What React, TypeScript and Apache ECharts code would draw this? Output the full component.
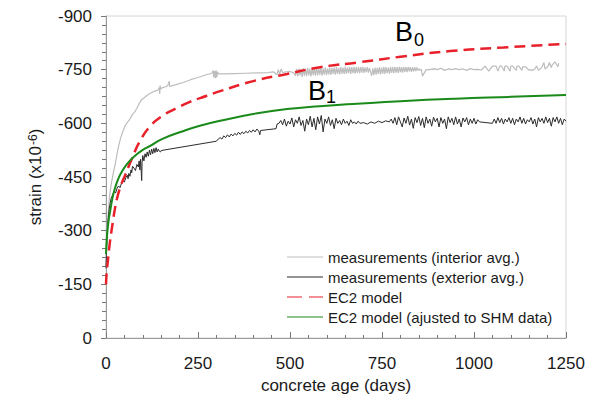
import React, { useEffect, useRef } from "react";
import * as echarts from "echarts";

const FONT = "'Liberation Sans', Arial, sans-serif";

const xTickMin = 0;
const xTickMax = 1250;
const xTickStep = 250;
const yTickMin = -900;
const yTickMax = 0;
const yTickStep = 150;

const seriesNames = [
  "measurements (interior avg.)",
  "measurements (exterior avg.)",
  "EC2 model",
  "EC2 model (ajusted to SHM data)",
];

const intDays = [
  0, 3, 6, 10, 15, 20, 25, 30, 35, 40, 45, 52, 58, 65, 72, 78, 84, 90, 96, 102, 108, 114, 120, 126, 132, 138, 142, 145, 146, 147, 148, 152, 158, 164, 168, 170, 172, 173, 176, 190, 210, 230, 250, 270, 288, 291, 293, 295, 297, 299, 301, 303, 306, 320, 350, 380, 410, 440, 455, 465, 468, 472, 476, 480, 490, 500, 510,
  515, 518, 521, 524, 527, 530, 533, 536, 539, 542, 545, 548, 551, 554, 557, 560, 563, 566, 569, 572, 575, 578, 581, 584, 587, 590, 593, 596, 599, 602, 605, 608, 611, 614, 617, 620, 623, 626, 629, 632, 635, 638, 641, 644, 647, 650, 653, 656, 659, 662, 665, 668, 671, 674, 677, 680, 683, 686, 689, 692, 695, 698, 701, 704, 707, 710, 713, 716, 719, 722, 725, 728, 731, 734, 737, 740, 743, 746, 749, 752, 755, 758, 761, 764, 767, 770, 773, 776, 779, 782, 785, 788, 791, 794, 797, 800, 803, 806, 809, 812, 815, 818, 821, 824, 827, 830, 833, 836, 839, 842, 845, 848, 851, 854, 857,
  860, 870, 880, 888, 890, 892, 900, 910, 920, 930, 940, 950, 960, 970, 980, 990, 1000, 1010, 1020, 1030, 1040, 1050, 1060, 1065, 1070, 1075, 1082, 1084, 1090, 1098, 1100, 1105, 1115, 1117, 1122, 1130, 1132, 1140, 1150, 1152, 1158, 1165, 1170, 1175, 1180, 1185, 1190, 1193, 1200, 1205, 1210, 1212, 1220, 1228, 1230, 1238, 1242, 1245, 1250,
];
const intVals = [
  -200, -290, -350, -400, -435, -462, -485, -515, -540, -560, -575, -593, -603, -612, -625, -632, -642, -655, -665, -670, -675, -680, -684, -687, -690, -692, -694, -700, -682, -706, -696, -699, -701, -703, -706, -712, -718, -703, -704, -708, -714, -722, -728, -735, -740, -748, -728, -746, -726, -748, -728, -744, -738, -738, -739, -740, -741, -742, -744, -736, -750, -738, -752, -742, -744, -745, -741,
  -733, -752, -731, -753, -734, -751, -730, -754, -733, -752, -732, -755, -734, -753, -731, -754, -735, -752, -733, -756, -734, -753, -736, -755, -733, -754, -736, -756, -735, -753, -737, -756, -735, -755, -738, -756, -736, -757, -738, -755, -737, -757, -739, -756, -738, -758, -739, -756, -740, -758, -738, -757, -740, -758, -739, -757, -741, -758, -740, -757, -742, -758, -741, -756, -743, -757, -742, -755, -744,
  -733, -754, -735, -756, -736, -755, -738, -757, -737, -756, -739, -758, -738, -757, -740, -756, -739, -758, -741, -757, -740, -758, -742, -757, -741, -758, -743, -757, -742, -758, -744, -757, -743, -758, -745, -757, -744, -756, -745, -757, -746, -756,
  -748, -752, -748, -751, -732, -750, -750, -752, -749, -753, -750, -754, -748, -752, -750, -753, -750, -752, -748, -753, -750, -751, -749, -760, -746, -760, -760, -746, -760, -760, -746, -760, -760, -746, -760, -760, -748, -760, -760, -748, -758, -758, -748, -750, -748, -752, -760, -748, -752, -758, -770, -752, -758, -770, -756, -762, -772, -758, -768,
];

const extDays = [
  0, 1, 2, 3, 5, 7, 10, 14, 18, 22, 26, 30, 34, 38, 42, 46, 50, 54, 58, 60, 62, 65, 68, 70, 72, 76, 80, 84, 88, 90, 92, 94, 96, 97, 98, 100, 103, 106, 109, 112, 115, 118, 121, 124, 127, 130, 133, 136, 139, 142, 145, 148, 150,
  300, 305, 310, 315, 320, 325, 330, 335, 340, 345, 350, 355, 360, 365, 370, 375, 380, 385, 390, 395, 400, 405, 410, 415, 418, 420,
  462, 465, 470, 475, 480, 485, 490, 495, 500, 505, 510, 515, 520, 525, 530, 535, 540, 545, 550, 555, 560, 565, 570, 575, 580, 585, 590, 595, 600, 605, 610, 615, 620, 625, 630, 635, 640, 645, 650, 655, 660, 665, 670, 675, 680, 685, 690,
  700, 710, 720, 730, 740, 750, 760, 770,
  775, 780, 785, 790, 795, 800, 805, 810, 815, 820, 825, 830, 835, 840, 845, 850, 855, 860, 865, 870, 875, 880, 885, 890, 895, 900, 905, 910, 915, 920, 925, 930, 935, 940, 945, 950, 955, 960, 965, 970, 975, 980, 985, 990, 995, 1000, 1005, 1010, 1015,
  1050, 1055, 1060, 1065, 1070, 1075, 1080, 1085, 1090, 1095, 1100, 1105, 1110, 1115, 1120, 1125, 1130, 1135, 1140, 1145, 1150, 1155, 1160, 1165, 1170, 1175, 1180, 1185, 1190, 1195, 1200, 1205, 1210, 1215, 1220, 1225, 1230, 1235, 1240, 1245, 1250,
];
const extVals = [
  -195, -230, -260, -290, -320, -345, -370, -390, -400, -410, -405, -418, -425, -420, -432, -440, -436, -448, -455, -445, -460, -452, -470, -462, -480, -475, -468, -485, -478, -495, -470, -500, -460, -440, -490, -510, -495, -515, -505, -520, -508, -525, -512, -528, -515, -530, -518, -532, -520, -528, -522, -520, -524,
  -550, -556, -560, -556, -565, -560, -568, -562, -570, -565, -572, -567, -575, -569, -576, -571, -578, -573, -580, -575, -582, -576, -584, -578, -568, -580,
  -585, -598, -600, -608, -596, -612, -592, -606, -598, -615, -590, -610, -600, -618, -594, -608, -578, -612, -596, -620, -590, -614, -582, -618, -598, -622, -576, -612, -600, -618, -594, -610, -585, -614, -600, -608, -596, -612, -600, -606, -594, -610, -600, -604, -598, -606, -600,
  -602, -598, -604, -600, -606, -602, -607, -604,
  -612, -600, -616, -596, -618, -604, -590, -615, -600, -620, -595, -612, -586, -616, -602, -619, -594, -614, -588, -618, -600, -612, -592, -617, -604, -614, -590, -616, -600, -612, -585, -618, -602, -614, -596, -618, -598, -612, -590, -615, -604, -616, -596, -612, -600, -614, -598, -610, -604,
  -600, -612, -600, -616, -602, -614, -598, -612, -604, -616, -600, -614, -596, -612, -604, -618, -600, -614, -598, -610, -604, -616, -598, -612, -590, -616, -604, -614, -600, -618, -602, -614, -592, -616, -604, -618, -600, -614, -596, -612, -606,
];

const ec2Days = [0, 2, 5, 8, 11, 15, 19, 24, 30, 40, 52, 70, 92, 120, 152, 193, 228, 274, 310, 400, 492, 582, 690, 800, 935, 1080, 1250];
const ec2Vals = [-150, -185, -215, -245, -271, -300, -327, -360, -390, -425, -455, -500, -550, -592, -620, -643, -660, -677, -690, -718, -738, -757, -771, -786, -802, -812, -822];

const adjDays = [0, 2, 5, 8, 11, 16, 22, 33, 45, 57, 70, 84, 100, 120, 152, 209, 255, 310, 400, 492, 580, 671, 800, 950, 1100, 1250];
const adjVals = [-235, -275, -310, -335, -352, -383, -410, -444, -468, -486, -501, -514, -526, -537, -556, -578, -593, -607, -626, -640, -648, -654, -662, -669, -674, -679];

const zip = (xs: number[], ys: number[]) => xs.map((x, i) => [x, ys[i]]);

const SOLID_ICON = "path://M0,0h36v1h-36z";
const DASH_ICON = "path://M0,0h15v1h-15zM22,0h14v1h-14z";

export default function App() {
  const ref = useRef<HTMLDivElement>(null);
  useEffect(() => {
    const chart = echarts.init(ref.current!, null, { renderer: "svg" });
    chart.setOption({
      animation: false,
      backgroundColor: "#ffffff",
      textStyle: { fontFamily: FONT },
      grid: {
        left: 106,
        right: 35,
        top: 16,
        bottom: 63,
        show: true,
        borderColor: "#d6d6d6",
        borderWidth: 1,
        containLabel: false,
      },
      xAxis: {
        type: "value",
        min: xTickMin,
        max: xTickMax,
        interval: xTickStep,
        name: "concrete age (days)",
        nameLocation: "middle",
        nameGap: 37,
        nameTextStyle: { fontSize: 17, color: "#1a1a1a", fontFamily: FONT },
        axisLine: { show: true, lineStyle: { color: "#9a9a9a", width: 1 } },
        axisTick: { show: true, inside: true, length: 6, lineStyle: { color: "#777" } },
        minorTick: { show: true, splitNumber: 5, length: 3, lineStyle: { color: "#777" } },
        axisLabel: { fontSize: 17, color: "#1a1a1a", margin: 17, fontFamily: FONT, formatter: (v: number) => String(v) },
        splitLine: { show: false },
      },
      yAxis: {
        type: "value",
        min: yTickMin,
        max: yTickMax,
        interval: yTickStep,
        inverse: true,
        name: "strain (x10{sup|-6})",
        nameLocation: "middle",
        nameGap: 62,
        nameRotate: 90,
        nameTextStyle: {
          fontSize: 17,
          color: "#1a1a1a",
          fontFamily: FONT,
          rich: {
            sup: { fontSize: 12, color: "#1a1a1a", fontFamily: FONT, verticalAlign: "top", lineHeight: 12, padding: [0, 0, 8, 1] },
          },
        },
        axisLine: { show: true, lineStyle: { color: "#9a9a9a", width: 1 } },
        axisTick: { show: true, inside: false, length: 5, lineStyle: { color: "#777" } },
        minorTick: { show: true, splitNumber: 6, length: 4, lineStyle: { color: "#777" } },
        axisLabel: { fontSize: 17, color: "#1a1a1a", margin: 14, fontFamily: FONT, formatter: (v: number) => String(v) },
        splitLine: { show: false },
      },
      legend: {
        orient: "vertical",
        left: 282,
        top: 242,
        itemWidth: 36,
        itemHeight: 2,
        itemGap: 0,
        textStyle: { fontSize: 15, color: "#1a1a1a", lineHeight: 20, fontFamily: FONT },
        data: [
          { name: seriesNames[0], icon: SOLID_ICON },
          { name: seriesNames[1], icon: SOLID_ICON },
          { name: seriesNames[2], icon: DASH_ICON },
          { name: seriesNames[3], icon: SOLID_ICON },
        ],
      },
      graphic: [
        { type: "text", left: 395, top: 18, style: { text: "B", fontSize: 27, fill: "#000", fontFamily: FONT } },
        { type: "text", left: 414, top: 31, style: { text: "0", fontSize: 18, fill: "#000", fontFamily: FONT } },
        { type: "text", left: 308, top: 77, style: { text: "B", fontSize: 27, fill: "#000", fontFamily: FONT } },
        { type: "text", left: 326, top: 88, style: { text: "1", fontSize: 18, fill: "#000", fontFamily: FONT } },
      ],
      series: [
        {
          name: seriesNames[0],
          type: "line",
          data: zip(intDays, intVals),
          symbol: "none",
          lineStyle: { color: "#bdbdbd", width: 1.2 },
          itemStyle: { color: "#bdbdbd" },
        },
        {
          name: seriesNames[1],
          type: "line",
          data: zip(extDays, extVals),
          symbol: "none",
          lineStyle: { color: "#2b2b2b", width: 1 },
          itemStyle: { color: "#2b2b2b" },
        },
        {
          name: seriesNames[2],
          type: "line",
          data: zip(ec2Days, ec2Vals),
          symbol: "none",
          smooth: 0.5,
          lineStyle: { color: "#e8202a", width: 2.5, type: [11, 6] },
          itemStyle: { color: "#e8202a" },
        },
        {
          name: seriesNames[3],
          type: "line",
          data: zip(adjDays, adjVals),
          symbol: "none",
          smooth: 0.5,
          lineStyle: { color: "#1a8a1a", width: 2 },
          itemStyle: { color: "#1a8a1a" },
        },
      ],
    });
    return () => chart.dispose();
  }, []);
  return <div ref={ref} style={{ position: "fixed", left: 0, top: 0, width: 601, height: 401 }} />;
}
